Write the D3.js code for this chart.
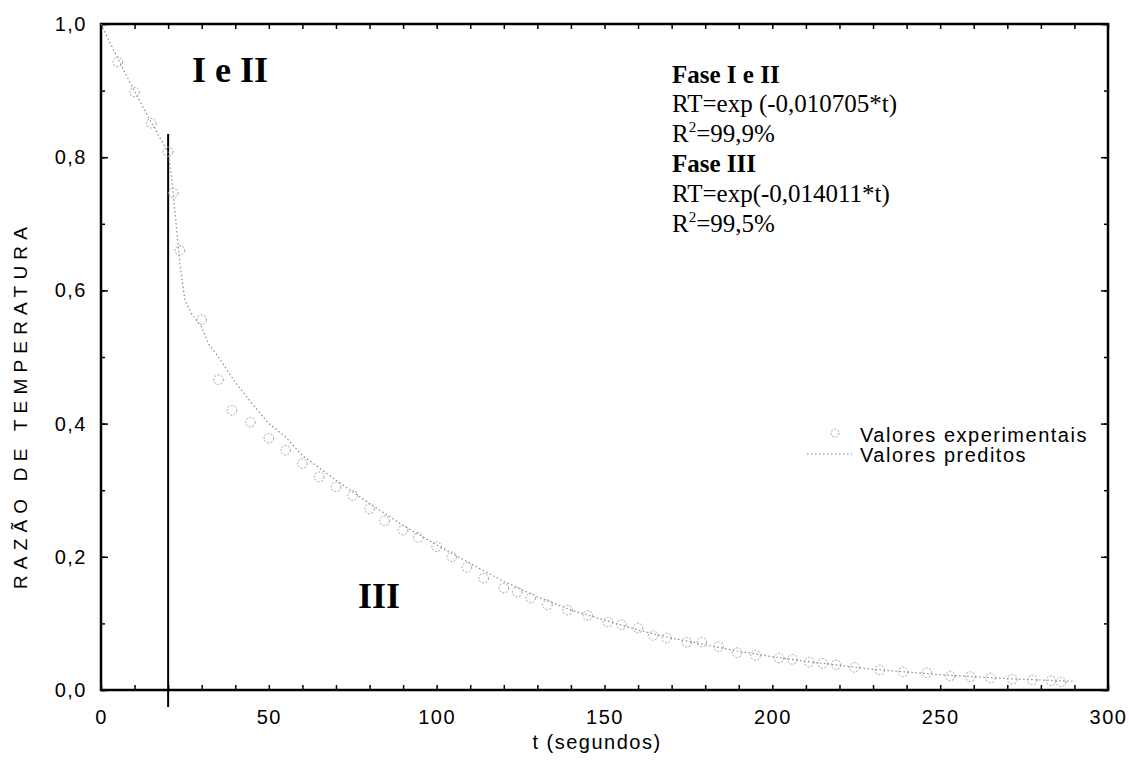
<!DOCTYPE html>
<html lang="pt">
<head>
<meta charset="utf-8">
<title>Razão de temperatura</title>
<script src="https://d3js.org/d3.v7.min.js"></script>
<style>
body { margin: 0; background: #fff; }
.sans { font-family: "Liberation Sans", Arial, sans-serif; font-size: 20px; letter-spacing: 1.5px; fill: #000; }
.serif { font-family: "Liberation Serif", "Times New Roman", serif; fill: #000; }
.axis .domain { display: none; }
.axis line { stroke: #000; stroke-width: 1.5; }
.axis text { font-family: "Liberation Sans", Arial, sans-serif; font-size: 20px; letter-spacing: 1.5px; }
</style>
</head>
<body>
<svg width="1129" height="768"></svg>
<script>
var tExp  = [5, 10, 15, 20, 21.5, 23.5, 30, 35, 39, 44.5, 50, 55, 60, 65, 70, 75, 80, 84.5, 90, 94.5,
             100, 104.5, 109, 114, 120, 124, 128, 133, 139, 145, 151, 155, 160, 164.5, 168.5, 174.5,
             179, 184, 189.5, 195, 202, 206, 211, 215, 219, 224.5, 232, 239, 246, 253, 259, 265,
             271.5, 277.5, 283, 286];
var rtExp = [0.943, 0.898, 0.851, 0.808, 0.746, 0.66, 0.556, 0.466, 0.42, 0.402, 0.378, 0.36, 0.34, 0.32,
             0.305, 0.292, 0.272, 0.254, 0.24, 0.229, 0.215, 0.2, 0.184, 0.168, 0.153, 0.147, 0.138,
             0.128, 0.12, 0.112, 0.102, 0.098, 0.093, 0.082, 0.078, 0.072, 0.072, 0.065, 0.056, 0.052,
             0.048, 0.046, 0.042, 0.04, 0.038, 0.034, 0.03, 0.027, 0.026, 0.021, 0.02, 0.018, 0.016,
             0.015, 0.014, 0.012];

// predicted curve
var tPred  = [0, 5, 10, 15, 20, 21, 22, 23.5, 25, 27, 30, 32, 35, 40, 45, 50, 55, 60, 70, 80, 90, 100,
              110, 120, 130, 140, 150, 160, 170, 180, 190, 200, 210, 220, 230, 240, 250, 260, 270, 280, 290];
var rtPred = [1.0, 0.948, 0.899, 0.852, 0.807, 0.77, 0.72, 0.64, 0.585, 0.565, 0.545, 0.52, 0.5, 0.462,
              0.43, 0.4, 0.38, 0.352, 0.315, 0.28, 0.247, 0.218, 0.19, 0.163, 0.14, 0.12, 0.105, 0.09,
              0.078, 0.068, 0.058, 0.05, 0.043, 0.037, 0.031, 0.027, 0.023, 0.02, 0.017, 0.015, 0.013];

var xLabels = [0, 50, 100, 150, 200, 250, 300];
var yLabels = [0, 0.2, 0.4, 0.6, 0.8, 1.0];
var tPhase = 20;

var svg = d3.select("svg"),
    margin = {top: 24, right: 21, bottom: 78, left: 101},
    width = +svg.attr("width") - margin.left - margin.right,
    height = +svg.attr("height") - margin.top - margin.bottom;

var x = d3.scaleLinear().domain([0, 300]).range([0, width]),
    y = d3.scaleLinear().domain([0, 1]).range([height, 0]);

var br = d3.formatLocale({decimal: ",", thousands: ".", grouping: [3], currency: ["R$", ""]});
var fmt1 = br.format(".1f");

var g = svg.append("g")
    .attr("transform", "translate(" + margin.left + "," + margin.top + ")");

// inward ticks on all four sides
var xMinor = d3.range(0, 301, 10), yMinor = d3.range(0, 1.001, 0.1);
g.append("g").attr("class", "axis")
    .attr("transform", "translate(0," + height + ")")
    .call(d3.axisBottom(x).tickValues(xMinor).tickSize(-5).tickFormat(""));
g.append("g").attr("class", "axis")
    .call(d3.axisTop(x).tickValues(xMinor).tickSize(-5).tickFormat(""));
g.append("g").attr("class", "axis")
    .call(d3.axisLeft(y).tickValues(yMinor).tickSize(-4).tickFormat(""));
g.append("g").attr("class", "axis")
    .call(d3.axisLeft(y).tickValues(yLabels).tickSize(-7).tickFormat(""));
g.append("g").attr("class", "axis")
    .attr("transform", "translate(" + width + ",0)")
    .call(d3.axisRight(y).tickValues(yMinor).tickSize(-4).tickFormat(""));
g.append("g").attr("class", "axis")
    .attr("transform", "translate(" + width + ",0)")
    .call(d3.axisRight(y).tickValues(yLabels).tickSize(-7).tickFormat(""));

// tick labels
g.append("g").attr("class", "axis")
    .attr("transform", "translate(0," + height + ")")
    .call(d3.axisBottom(x).tickValues(xLabels).tickSize(0).tickPadding(20).tickFormat(d3.format("d")));
g.append("g").attr("class", "axis")
    .call(d3.axisLeft(y).tickValues(yLabels).tickSize(0).tickPadding(14).tickFormat(fmt1));

// frame
g.append("rect")
    .attr("width", width).attr("height", height)
    .attr("fill", "none").attr("stroke", "#000").attr("stroke-width", 2.5);

// phase divider
g.append("line")
    .attr("x1", x(tPhase)).attr("x2", x(tPhase))
    .attr("y1", y(0.835)).attr("y2", height + 17)
    .attr("stroke", "#000").attr("stroke-width", 2);

// predicted line
var line = d3.line()
    .x(function(d, i) { return x(tPred[i]); })
    .y(function(d) { return y(d); });
g.append("path")
    .datum(rtPred)
    .attr("d", line)
    .attr("fill", "none")
    .attr("stroke", "#8a8a8a")
    .attr("stroke-width", 1.2)
    .attr("stroke-dasharray", "1.5,2.5");

// experimental points
g.selectAll(".pt")
  .data(rtExp)
  .enter().append("circle")
    .attr("class", "pt")
    .attr("cx", function(d, i) { return x(tExp[i]); })
    .attr("cy", function(d) { return y(d); })
    .attr("r", 4.8)
    .attr("fill", "none")
    .attr("stroke", "#a0a0a0")
    .attr("stroke-width", 1)
    .attr("stroke-dasharray", "2,1.5");

// axis titles
svg.append("text").attr("class", "sans")
    .attr("x", 597).attr("y", 749)
    .attr("text-anchor", "middle")
    .text("t (segundos)");
svg.append("text").attr("class", "sans")
    .attr("transform", "translate(27,405) rotate(-90)")
    .attr("text-anchor", "middle")
    .style("font-size", "19px")
    .style("letter-spacing", "6.2px")
    .text("RAZÃO DE TEMPERATURA");

// phase labels
svg.append("text").attr("class", "serif")
    .attr("x", 192).attr("y", 82)
    .style("font-size", "36px").style("font-weight", "bold")
    .text("I e II");
svg.append("text").attr("class", "serif")
    .attr("x", 358).attr("y", 608)
    .style("font-size", "36px").style("font-weight", "bold")
    .text("III");

// equations
var eq = svg.append("text").attr("class", "serif").style("font-size", "25px");
eq.append("tspan").attr("x", 672).attr("y", 83).style("font-weight", "bold").text("Fase I e II");
eq.append("tspan").attr("x", 672).attr("y", 112).text("RT=exp (-0,010705*t)");
eq.append("tspan").attr("x", 672).attr("y", 142).text("R");
eq.append("tspan").attr("dy", -10).style("font-size", "15px").text("2");
eq.append("tspan").attr("dy", 10).text("=99,9%");
eq.append("tspan").attr("x", 672).attr("y", 172).style("font-weight", "bold").text("Fase III");
eq.append("tspan").attr("x", 672).attr("y", 202).text("RT=exp(-0,014011*t)");
eq.append("tspan").attr("x", 672).attr("y", 232).text("R");
eq.append("tspan").attr("dy", -10).style("font-size", "15px").text("2");
eq.append("tspan").attr("dy", 10).text("=99,5%");

// legend
var lg = svg.append("g");
lg.append("circle").attr("cx", 835).attr("cy", 433).attr("r", 4)
    .attr("fill", "none").attr("stroke", "#a0a0a0").attr("stroke-dasharray", "2,1.5");
lg.append("text").attr("class", "sans").attr("x", 860).attr("y", 442).text("Valores experimentais");
lg.append("line").attr("x1", 807).attr("x2", 852).attr("y1", 454).attr("y2", 454)
    .attr("stroke", "#8a8a8a").attr("stroke-width", 1.2).attr("stroke-dasharray", "1.5,2.5");
lg.append("text").attr("class", "sans").attr("x", 860).attr("y", 462).text("Valores preditos");
</script>
</body>
</html>
